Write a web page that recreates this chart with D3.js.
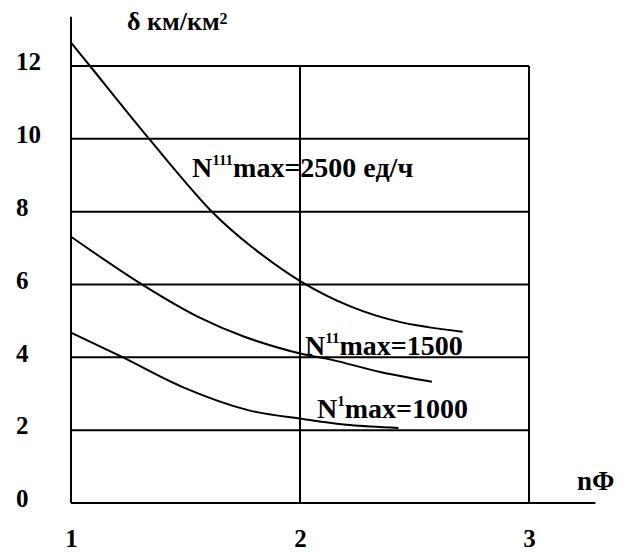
<!DOCTYPE html>
<html><head><meta charset="utf-8">
<script src="https://cdn.jsdelivr.net/npm/d3@7"></script>
</head>
<body style="margin:0"><svg id="chart" width="629" height="552"></svg>
<script>
// Data
const xTicks = [1, 2, 3];
const yTicks = [0, 2, 4, 6, 8, 10, 12];
const curveIII_x = [1.0, 1.083, 1.345, 1.62, 1.79, 2.01, 2.22, 2.43, 2.71];
const curveIII_y = [12.64, 12.0, 9.97, 7.97, 7.03, 6.06, 5.40, 4.98, 4.70];
const curveII_x = [1.0, 1.32, 1.555, 1.76, 2.01, 2.14, 2.35, 2.576];
const curveII_y = [7.31, 5.96, 5.11, 4.56, 4.09, 3.93, 3.60, 3.33];
const curveI_x = [1.0, 1.223, 1.485, 1.773, 2.01, 2.218, 2.43];
const curveI_y = [4.68, 4.01, 3.19, 2.55, 2.31, 2.14, 2.06];
const labels = [
  {base: "N", sup: "111", rest: "max=2500 ед/ч"},
  {base: "N", sup: "11", rest: "max=1500"},
  {base: "N", sup: "1", rest: "max=1000"}
];
const yTitle = "δ км/км";
const yTitleSup = "2";
const xTitle = "nΦ";

const svg = d3.select("#chart");
const x = d3.scaleLinear().domain([1, 3]).range([71, 529]);
const y = d3.scaleLinear().domain([0, 12]).range([503, 66]);

function styleText(sel, fs) {
  return sel.style("font-family", '"Liberation Serif"').attr("font-weight", "bold")
    .attr("font-size", fs).attr("fill", "#000");
}

// Grid
const g = svg.append("g").attr("stroke", "#000").attr("stroke-width", 2);
yTicks.filter(v => v > 0).forEach(v => {
  g.append("line").attr("x1", x(1)).attr("x2", x(3)).attr("y1", y(v)).attr("y2", y(v));
});
xTicks.filter(v => v > 1).forEach(v => {
  g.append("line").attr("x1", x(v)).attr("x2", x(v)).attr("y1", y(0)).attr("y2", y(12));
});
g.append("line").attr("x1", x(1)).attr("x2", x(1)).attr("y1", y(0)).attr("y2", y(13.35));
g.append("line").attr("x1", x(1)).attr("x2", x(3.29)).attr("y1", y(0)).attr("y2", y(0));

// Tick labels via d3 axes
const ax = svg.append("g").attr("transform", `translate(0,${y(0)})`)
  .call(d3.axisBottom(x).tickValues(xTicks).tickSize(0).tickPadding(26).tickFormat(d3.format("d")));
ax.select(".domain").remove();
ax.attr("font-family", null).attr("font-size", null);
styleText(ax.selectAll("text"), 25);

const ay = svg.append("g").attr("transform", `translate(${x(1)},0)`)
  .call(d3.axisLeft(y).tickValues(yTicks).tickSize(0).tickFormat(d3.format("d")));
ay.select(".domain").remove();
ay.attr("font-family", null).attr("font-size", null);
styleText(ay.selectAll("text"), 25)
  .attr("text-anchor", "start").attr("x", 16 - x(1)).attr("dy", "0.15em");

// Curves
const line = d3.line().x(d => x(d[0])).y(d => y(d[1])).curve(d3.curveCatmullRom.alpha(0.5));
[[curveIII_x, curveIII_y], [curveII_x, curveII_y], [curveI_x, curveI_y]].forEach(([xs, ys]) => {
  svg.append("path").datum(xs.map((v, i) => [v, ys[i]]))
    .attr("d", line).attr("fill", "none").attr("stroke", "#000").attr("stroke-width", 2);
});

// Curve labels
const labelPos = [[192, 177, 28], [305, 355, 28], [317, 418, 28]];
labels.forEach((l, i) => {
  const [lx, ly, fs] = labelPos[i];
  const t = styleText(svg.append("text").attr("x", lx).attr("y", ly), fs);
  t.append("tspan").text(l.base);
  t.append("tspan").attr("font-size", 15).attr("dy", -12).text(l.sup);
  t.append("tspan").attr("dy", 12).text(l.rest);
});

// Titles
const yt = styleText(svg.append("text").attr("x", 127).attr("y", 30), 26);
yt.append("tspan").text(yTitle);
yt.append("tspan").attr("font-size", 16).attr("dy", -6).text(yTitleSup);
styleText(svg.append("text").attr("x", 577).attr("y", 490), 27).text(xTitle);
</script></body></html>
